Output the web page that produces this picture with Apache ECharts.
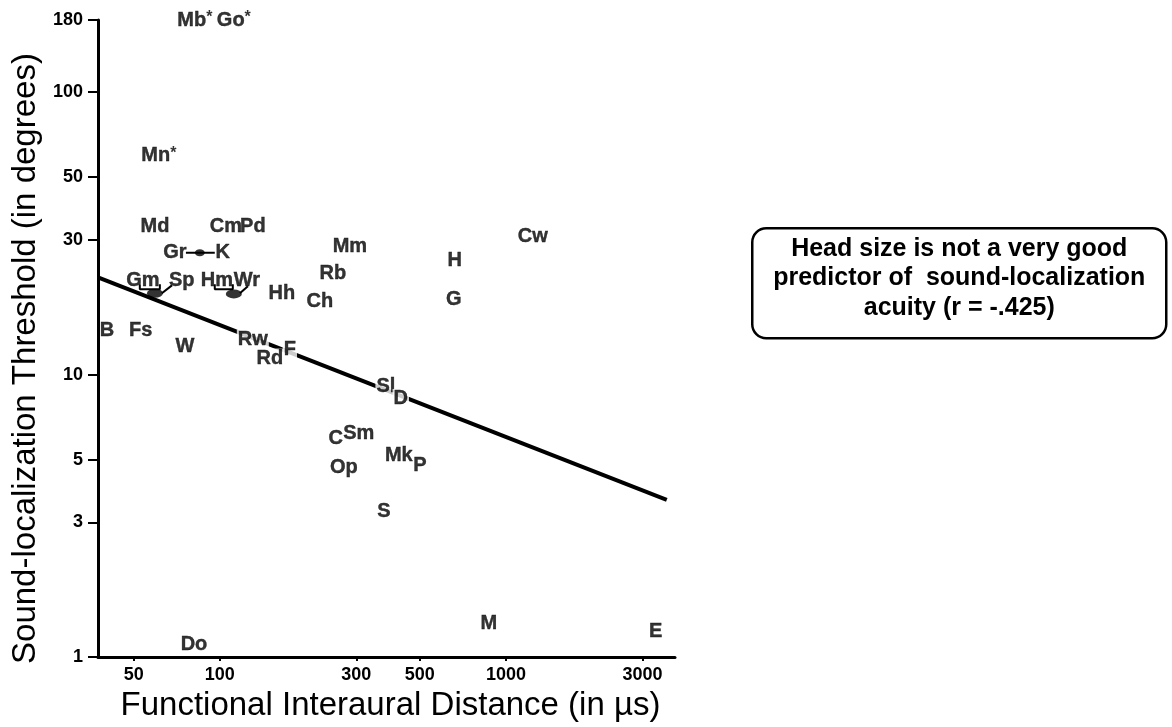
<!DOCTYPE html>
<html><head><meta charset="utf-8">
<script src="https://cdn.jsdelivr.net/npm/echarts@6/dist/echarts.min.js"></script>
<style>html,body{margin:0;padding:0;background:#fff}#c{width:1172px;height:727px}</style>
</head><body><div id="c"></div>
<script>
// ---- data (x: functional interaural distance in µs, y: threshold in degrees) ----
const xTicks = [50, 100, 300, 500, 1000, 3000];
const yTicks = [1, 3, 5, 10, 30, 50, 100, 180];
const xRange = [37.5, 3900];
const yRange = [1, 180];

const species = ['Mb*','Go*','Mn*','Md','Cm','Pd','Gr','K','Gm','Sp','Hm','Wr','Hh','Ch','Mm','Rb','Cw','H','G','B','Fs','W','Rw','Rd','F','Sl','D','C','Sm','Op','Mk','P','S','M','E','Do'];
const distance = [81.8,111.9,61.2,59.3,105,130.4,69.6,102.4,53.8,73.6,97.6,124.3,164.7,223.7,284.8,248.3,1242,662.8,657.5,40.3,52.9,75.5,130.4,149.5,175.7,380.4,429.1,254.3,306.0,271.3,422.3,500,374.3,871.5,3341,81.2];
const threshold = [180,180,59.6,33.4,33.4,33.4,27.0,27.0,21.6,21.6,21.6,21.6,19.4,18.2,28.4,22.8,30.8,25.4,18.5,14.3,14.3,12.6,13.3,11.4,12.3,9.11,8.20,5.94,6.18,4.70,5.18,4.78,3.27,1.316,1.233,1.11];

// species whose labels sit on the regression line (line is interrupted by them)
const onLine = ['Rw','Rd','F','Sl','D'];

// shared-point dots (pairs of species with the same value)
const dotX = [85.1, 59.3, 111.9];
const dotY = [27.0, 19.4, 19.3];

// connector strokes between labels and shared dots
const connectors = [
  [[76.1,27.0],[96.0,27.0]],
  [[52.5,20.9],[52.5,20.07],[61.7,20.07],[61.7,20.9]],
  [[62.7,19.4],[68.0,20.7]],
  [[96.0,20.9],[96.0,20.07],[111.0,20.07],[111.0,20.9]],
  [[117.5,19.4],[125.3,20.56]]
];

// regression line end points
const regX = [37.5, 3650];
const regY = [22.1, 3.60];

const annotation = ['Head size is not a very good', 'predictor of  sound-localization', 'acuity (r = -.425)'];

// ---- chart ----
const L = Math.log10;
const FONT = "'Liberation Sans', Arial, Helvetica, sans-serif";
const chart = echarts.init(document.getElementById('c'), null, {renderer: 'canvas'});

const labelData = species.map((n, i) => {
  const item = {name: n, value: [L(distance[i]), L(threshold[i])]};
  if (onLine.includes(n)) item.label = {backgroundColor: '#fff', padding: [0, 1]};
  return item;
});

const series = [
  {
    type: 'line', name: 'regression', silent: true, symbol: 'none', z: 1,
    data: regX.map((x, i) => [L(x), L(regY[i])]),
    lineStyle: {color: '#000', width: 4}
  }
];
connectors.forEach(c => series.push({
  type: 'line', symbol: 'none', silent: true, z: 1,
  data: c.map(p => [L(p[0]), L(p[1])]),
  lineStyle: {color: '#000', width: 2}
}));
series.push({
  type: 'scatter', silent: true, z: 2,
  data: dotX.map((x, i) => [L(x), L(dotY[i])]),
  symbol: 'circle',
  symbolSize: (v, p) => p.dataIndex === 0 ? [10, 7] : [16, 9],
  itemStyle: {color: '#000'}
});
series.push({
  type: 'scatter', silent: true, z: 3,
  data: labelData,
  symbolSize: 1,
  itemStyle: {color: 'rgba(0,0,0,0)'},
  label: {
    show: true, position: 'inside', color: '#000',
    fontFamily: FONT, fontSize: 20, fontWeight: 'bold',
    formatter: p => p.name.endsWith('*') ? '{t|' + p.name.slice(0, -1) + '}{s|*}' : '{t|' + p.name + '}',
    rich: {
      t: {fontFamily: FONT, fontSize: 20, fontWeight: 'bold', color: '#000', textBorderColor: '#000', textBorderWidth: 0.4},
      s: {fontFamily: FONT, fontSize: 16, fontWeight: 'bold', color: '#000', verticalAlign: 'top'}
    }
  }
});

const option = {
  animation: false,
  backgroundColor: '#fff',
  grid: {left: 98, right: 497, top: 20, bottom: 63, containLabel: false},
  xAxis: {
    type: 'value', min: L(xRange[0]), max: L(xRange[1]),
    name: 'Functional Interaural Distance (in µs)', nameLocation: 'middle', nameGap: 28,
    nameTextStyle: {fontFamily: FONT, fontSize: 33, color: '#000', padding: [0, 0, 0, 8]},
    axisLine: {show: true, lineStyle: {color: '#000', width: 3}},
    axisTick: {show: true, customValues: xTicks.map(L), length: 4, lineStyle: {color: '#000', width: 2}},
    axisLabel: {customValues: xTicks.map(L), formatter: v => String(Math.round(Math.pow(10, v))),
      color: '#000', fontFamily: FONT, fontSize: 18, fontWeight: 'bold', margin: 9},
    splitLine: {show: false}
  },
  yAxis: {
    type: 'value', min: L(yRange[0]), max: L(yRange[1]),
    name: 'Sound-localization Threshold (in degrees)', nameLocation: 'middle', nameGap: 56,
    nameTextStyle: {fontFamily: FONT, fontSize: 33, color: '#000', padding: [0, 40, 0, 0]},
    axisLine: {show: true, lineStyle: {color: '#000', width: 3}},
    axisTick: {show: true, customValues: yTicks.map(L), length: 10, lineStyle: {color: '#000', width: 2}},
    axisLabel: {customValues: yTicks.map(L), formatter: v => String(Math.round(Math.pow(10, v))),
      color: '#000', fontFamily: FONT, fontSize: 18, fontWeight: 'bold', margin: 15},
    splitLine: {show: false}
  },
  graphic: [{
    type: 'group', left: 751, top: 227,
    children: [
      {type: 'rect', shape: {x: 0, y: 0, width: 414, height: 110, r: 14},
       style: {fill: '#fff', stroke: '#000', lineWidth: 2.5}},
      {type: 'text', x: 207, y: 50,
       style: {text: annotation.join('\n'), fill: '#000', font: 'bold 25px ' + FONT,
         align: 'center', verticalAlign: 'middle', lineHeight: 29.5}}
    ]
  }],
  series: series
};
chart.setOption(option);
</script></body></html>
